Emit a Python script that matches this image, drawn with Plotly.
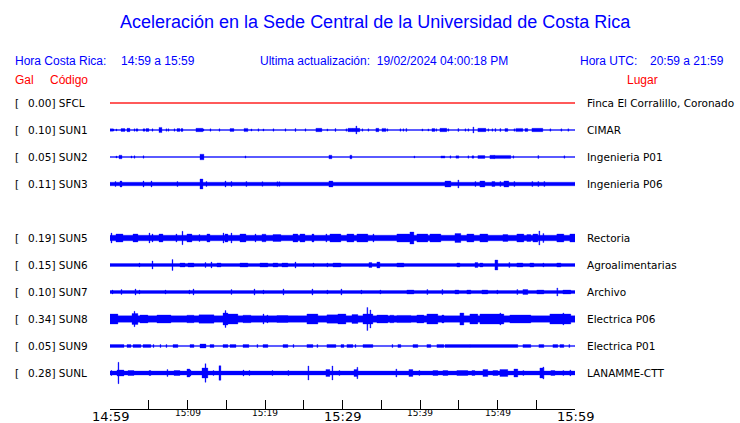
import plotly.graph_objects as go

# ---------------- data ----------------
codes = ["SFCL", "SUN1", "SUN2", "SUN3", "SUN5", "SUN6", "SUN7", "SUN8", "SUN9", "SUNL"]
rows = [0, 1, 2, 3, 5, 6, 7, 8, 9, 10]
gal = ["0.00", "0.10", "0.05", "0.11", "0.19", "0.15", "0.10", "0.34", "0.05", "0.28"]
places = ["Finca El Corralillo, Coronado", "CIMAR", "Ingenieria P01", "Ingenieria P06",
          "Rectoria", "Agroalimentarias", "Archivo", "Electrica P06", "Electrica P01", "LANAMME-CTT"]
# background band half-amplitude of each trace (display units, row spacing = 27)
base_amp = [0.45, 0.45, 0.45, 1.8, 2.8, 1.5, 1.5, 3.3, 0.55, 2.0]
# bursts: (start minute after 14:59, end minute, half-amplitude)
events = {
    "SFCL": [],
    "SUN1": [(0.0,0.26,1.2),(0.39,0.39,1.1),(0.77,0.77,1.0),(1.42,1.81,1.4),(2.19,2.45,1.7),(3.10,3.10,1.2),
             (3.35,3.48,1.2),(4.26,4.39,1.2),(4.64,4.90,1.4),(5.42,5.42,1.2),(6.32,6.58,2.6),(7.22,7.22,1.2),
             (7.48,7.48,1.2),(8.26,8.26,1.2),(8.64,8.90,1.4),(9.16,9.29,1.4),(11.09,11.87,1.7),(12.0,12.0,1.1),
             (12.90,12.90,1.2),(14.06,14.06,1.2),(15.48,15.87,1.4),(17.29,17.67,1.6),(18.19,18.19,1.1),
             (19.09,19.09,1.2),(19.74,19.74,1.1),(21.03,21.03,1.2),(22.58,22.58,1.2),(23.87,23.87,1.4),
             (25.16,25.16,1.2),(26.57,27.22,1.7),(27.99,27.99,1.1),(29.03,29.03,1.4),(30.44,30.44,1.2),
             (30.70,31.09,1.7),(31.22,32.12,1.7),(31.73,31.73,4.0),(32.51,32.51,1.2),(33.28,33.28,1.2),
             (34.31,34.57,1.7),(35.09,35.48,1.6),(35.73,35.73,1.2),(37.41,37.41,1.2),(37.80,37.80,1.2),
             (38.18,38.18,1.4),(40.25,40.25,1.1),(41.02,41.02,1.1),(41.54,41.80,1.4),(42.05,42.05,1.2),
             (42.57,43.34,1.7),(43.60,43.60,1.2),(44.89,44.89,1.4),(45.80,45.80,1.2),(46.18,46.18,1.2),
             (46.83,46.83,3.0),(47.47,48.38,1.7),(48.76,48.76,1.2),(49.28,49.28,1.2),(49.67,49.67,1.4),
             (50.31,50.31,1.4),(50.96,51.21,1.4),(52.12,52.12,1.2),(52.37,53.15,1.6),(53.54,53.79,1.4),
             (54.44,55.73,1.7),(56.76,56.76,1.2),(58.18,58.18,1.2),(59.08,59.08,1.2)],
    "SUN2": [(0.77,0.77,1.0),(1.16,1.42,1.8),(2.71,2.71,1.1),(3.10,3.10,1.2),(4.26,4.26,1.2),(11.61,12.0,2.8),
             (17.42,17.42,1.1),(28.25,28.51,1.8),(30.96,31.09,1.8),(39.22,39.22,1.0),(42.70,43.09,1.1),
             (43.86,43.86,1.2),(44.63,44.89,1.2),(46.18,46.18,1.2),(46.70,46.83,1.2),(47.47,48.25,1.4),
             (49.02,49.54,1.7),(49.54,51.60,1.6),(51.99,51.99,1.2),(55.21,55.21,1.4),(58.57,58.57,1.2)],
    "SUN3": [(0.65,0.65,2.5),(1.29,1.42,3.0),(4.26,4.26,3.0),(5.29,5.29,3.0),(8.64,8.64,2.5),(11.61,11.87,5.0),
             (12.38,12.38,2.5),(14.84,14.84,3.0),(15.61,15.61,2.5),(17.54,17.54,2.5),(19.61,19.61,2.3),
             (21.54,21.54,2.3),(21.80,21.80,2.3),(28.25,28.64,3.0),(43.22,43.86,3.0),(44.89,44.89,4.0),
             (47.09,47.09,2.5),(47.73,48.25,3.0),(49.28,49.54,2.5),(50.31,50.31,2.5),(50.83,51.34,3.0),
             (52.12,52.12,2.5),(54.44,54.44,2.5),(55.21,55.21,2.5),(55.99,55.99,2.5)],
    "SUN5": [(0.13,0.13,5.0),(0.77,1.55,4.0),(2.97,3.48,4.0),(5.03,5.03,5.0),(5.42,5.42,4.0),(6.32,6.71,4.0),
             (8.51,8.51,4.0),(9.29,9.29,6.7),(9.93,10.45,4.0),(11.48,11.48,3.5),(12.51,12.77,4.0),(14.58,14.58,5.0),
             (14.84,15.09,4.0),(15.61,15.61,5.0),(16.77,17.42,4.0),(18.71,18.71,4.0),(19.61,20.0,3.8),
             (21.03,21.93,3.5),(23.61,24.12,4.0),(24.51,25.03,4.0),(26.06,26.19,4.0),(27.86,27.86,4.0),
             (28.38,29.67,4.0),(30.57,31.35,4.0),(31.86,33.15,4.0),(33.93,33.93,4.0),(37.02,38.57,4.0),
             (38.70,39.09,6.0),(39.60,40.89,4.0),(41.28,42.57,4.0),(44.51,45.15,4.5),(46.05,46.83,4.0),
             (47.73,48.63,4.0),(50.70,51.21,3.5),(52.50,53.28,4.0),(53.79,54.18,3.5),(54.57,55.08,4.0),
             (55.34,55.34,7.0),(55.86,55.86,4.5),(57.66,58.44,4.0),(59.34,59.99,4.0)],
    "SUN6": [(3.74,3.74,2.0),(5.42,5.42,4.0),(8.0,8.0,5.5),(9.03,9.55,2.0),(10.06,10.71,2.0),(12.26,12.26,2.5),
             (13.03,13.03,3.0),(13.80,14.19,2.0),(16.77,17.67,2.0),(19.35,20.25,2.0),(21.03,21.54,2.0),
             (22.19,22.83,2.0),(23.87,23.87,3.0),(26.19,26.19,2.0),(27.99,27.99,2.0),(28.77,29.67,2.0),
             (33.41,33.67,2.5),(34.44,34.70,3.0),(37.02,37.80,2.0),(44.76,45.02,2.0),(47.09,47.34,2.5),
             (47.73,47.99,2.0),(49.67,49.92,5.0),(51.47,51.47,2.5),(52.50,53.15,2.0),(54.18,54.57,2.0),
             (55.86,55.86,2.0),(57.66,58.05,2.0)],
    "SUN7": [(0.26,0.26,2.0),(1.42,1.42,2.5),(3.23,3.23,3.0),(3.74,3.74,2.0),(7.10,7.10,2.0),(10.19,10.19,2.0),
             (10.71,10.71,3.0),(15.61,15.61,2.5),(18.58,18.58,3.0),(19.74,19.74,2.0),(22.32,22.32,3.0),
             (26.06,26.06,3.0),(27.99,27.99,2.0),(29.80,29.80,3.0),(32.38,32.38,2.0),(34.83,34.83,2.0),
             (38.31,39.09,2.0),(40.89,40.89,2.5),(42.83,42.83,2.5),(44.51,44.89,2.0),(46.05,46.44,2.0),
             (47.99,48.63,2.0),(49.92,49.92,2.0),(52.50,52.50,2.5),(53.28,53.79,2.5),(55.08,55.86,2.0),
             (57.66,57.66,4.0),(58.44,59.34,2.0)],
    "SUN8": [(0.0,0.90,5.0),(2.84,3.48,5.5),(3.10,3.10,7.7),(3.87,4.77,4.0),(6.06,7.74,4.0),(9.93,10.71,3.8),
             (11.48,13.29,4.2),(14.58,15.09,6.0),(14.84,14.84,8.5),(15.09,16.38,5.0),(17.16,18.06,3.8),
             (19.74,19.74,5.0),(20.25,20.25,4.0),(21.54,22.83,3.5),(25.41,26.70,5.0),(27.99,29.67,4.2),
             (29.41,30.32,5.0),(31.22,31.86,4.5),(32.64,33.80,5.0),(33.15,33.15,11.5),(33.54,33.54,9.0),
             (34.44,35.73,4.0),(36.12,36.51,3.8),(37.02,38.70,3.6),(39.60,40.38,4.0),(40.89,42.18,5.0),
             (42.83,42.96,4.0),(45.15,45.54,6.0),(46.44,47.34,5.0),(47.73,50.70,5.0),(50.31,50.31,6.0),
             (51.60,54.18,4.0),(56.76,59.34,5.0),(58.44,58.44,6.0)],
    "SUN9": [(0.0,1.68,1.5),(2.19,2.58,1.5),(2.97,3.87,1.5),(4.26,5.16,1.5),(5.55,5.55,1.5),(6.45,6.45,1.5),
             (7.22,7.22,1.5),(8.13,8.64,1.5),(10.32,10.71,1.5),(11.61,12.26,2.0),(12.90,13.29,1.5),
             (14.58,15.09,1.5),(15.48,16.13,1.5),(17.16,17.80,1.5),(18.96,18.96,1.5),(19.74,20.25,1.5),
             (22.32,22.83,1.5),(23.61,23.61,1.5),(25.41,26.06,1.5),(26.70,26.70,1.5),(27.99,29.03,1.5),
             (29.80,30.06,1.5),(30.57,31.22,1.5),(31.61,31.61,1.5),(32.64,33.80,1.5),(36.38,36.38,1.5),
             (37.15,37.41,1.5),(39.09,39.60,1.5),(40.89,41.28,1.5),(42.18,42.96,1.5),(43.22,46.31,1.5),
             (46.44,52.50,1.5),(53.28,54.18,1.5),(55.34,55.86,1.5),(57.15,57.66,1.5),(58.05,58.44,1.5),
             (59.21,59.21,1.5)],
    "SUNL": [(0.13,0.13,2.5),(0.90,1.68,3.0),(1.03,1.03,10.7),(2.32,2.97,2.5),(5.03,5.16,2.5),(7.35,7.35,3.5),
             (8.26,8.90,2.5),(9.93,10.19,4.0),(10.32,10.32,3.0),(11.87,12.51,5.0),(12.26,12.26,9.3),
             (13.29,13.29,2.5),(14.06,14.19,7.3),(17.16,17.16,3.0),(17.93,17.93,2.5),(20.90,20.90,2.5),
             (22.96,22.96,2.5),(25.54,25.54,7.0),(27.86,28.25,3.5),(28.64,28.64,7.0),(29.54,29.54,2.5),
             (31.48,31.86,3.5),(31.86,31.86,5.7),(36.89,36.89,4.0),(38.57,38.96,3.5),(39.86,39.86,2.5),
             (41.67,42.18,2.5),(42.96,43.47,2.5),(44.76,46.05,2.5),(46.70,46.96,2.5),(48.12,48.63,3.5),
             (49.41,49.92,2.5),(50.31,51.21,3.5),(52.12,52.50,4.0),(53.28,53.28,2.5),(55.47,55.86,5.0),
             (55.86,55.86,6.0),(56.89,57.28,2.5),(58.44,58.44,2.5),(59.34,59.34,3.0)],
}
tick_minutes = list(range(0, 61, 5))
tick_labels = ["14:59", "", "15:09", "", "15:19", "", "15:29", "", "15:39", "", "15:49", "", "15:59"]
major_labels = ["14:59", "15:29", "15:59"]
title_text = "Aceleración en la Sede Central de la Universidad de Costa Rica"

# ---------------- layout geometry ----------------
W, H = 740, 423
L, R, T, B = 110, 165, 90, 14
PW, PH = W - L - R, H - T - B
ROW = 27
SPIKE_W = 0.12
BLUE = "#0000FF"
RED = "#FF0000"


def px(x):
    return (x - L) / PW


def py(y):
    return (H - B - y) / PH


fig = go.Figure()
for i, code in enumerate(codes):
    c = -ROW * rows[i]
    xs, ys = [], []
    b = base_amp[i]
    rects = [(0, 60, b)] + [(s, e + SPIKE_W, a) for (s, e, a) in events[code]]
    for (x0, x1, a) in rects:
        xs += [x0, x1, x1, x0, x0, None]
        ys += [c - a, c - a, c + a, c + a, c - a, None]
    col = RED if code == "SFCL" else BLUE
    fig.add_trace(go.Scatter(x=xs, y=ys, mode="lines", fill="toself", fillcolor=col,
                             line=dict(color=col, width=0.3), hoverinfo="skip", showlegend=False))

ann = []
ann.append(dict(text=title_text, x=px(375), y=py(22), xref="paper", yref="paper",
                xanchor="center", yanchor="middle", showarrow=False,
                font=dict(family="Liberation Sans", size=18, color=BLUE)))
for txt, x in [("Hora Costa Rica:", 13), ("14:59 a 15:59", 119),
               ("Ultima actualización:  19/02/2024 04:00:18 PM", 258),
               ("Hora UTC:", 578), ("20:59 a 21:59", 648)]:
    ann.append(dict(text=txt, x=px(x), y=py(61), xref="paper", yref="paper",
                    xanchor="left", yanchor="middle", showarrow=False,
                    font=dict(family="Liberation Sans", size=12, color=BLUE)))
for txt, x in [("Gal", 13), ("Código", 48), ("Lugar", 625)]:
    ann.append(dict(text=txt, x=px(x), y=py(80), xref="paper", yref="paper",
                    xanchor="left", yanchor="middle", showarrow=False,
                    font=dict(family="Liberation Sans", size=12, color=RED)))
for i, code in enumerate(codes):
    c = -ROW * rows[i]
    ann.append(dict(text="[", x=px(13), y=c, xref="paper", yref="y", xanchor="left",
                    yanchor="middle", showarrow=False,
                    font=dict(family="DejaVu Sans", size=10.5, color="black")))
    ann.append(dict(text=f"{gal[i]}] {code}", x=px(25.5), y=c, xref="paper", yref="y",
                    xanchor="left", yanchor="middle", showarrow=False,
                    font=dict(family="DejaVu Sans", size=10.5, color="black")))
    ann.append(dict(text=places[i], x=px(585), y=c, xref="paper", yref="y",
                    xanchor="left", yanchor="middle", showarrow=False,
                    font=dict(family="DejaVu Sans", size=10.5, color="black")))
for m, lab in zip(tick_minutes, tick_labels):
    if not lab:
        continue
    big = lab in major_labels
    ann.append(dict(text=lab, x=m, y=py(416 if big else 413), xref="x", yref="paper",
                    xanchor="center", yanchor="middle", showarrow=False,
                    font=dict(family="DejaVu Sans", size=13 if big else 9, color="black")))

fig.update_layout(
    width=W, height=H, margin=dict(l=L, r=R, t=T, b=B, autoexpand=False),
    paper_bgcolor="white", plot_bgcolor="white", annotations=ann,
    xaxis=dict(range=[0, 60], tickvals=tick_minutes, ticktext=[""] * len(tick_minutes),
               showticklabels=False, ticks="inside", ticklen=9, tickcolor="black", tickwidth=1,
               showline=True, linecolor="black", linewidth=1, showgrid=False, zeroline=False),
    yaxis=dict(range=[-306, 13], visible=False, showgrid=False, zeroline=False),
)
fig.write_html("out.html", config={"displayModeBar": False},
               post_script="document.body.style.margin='0px';document.body.style.padding='0px';")
